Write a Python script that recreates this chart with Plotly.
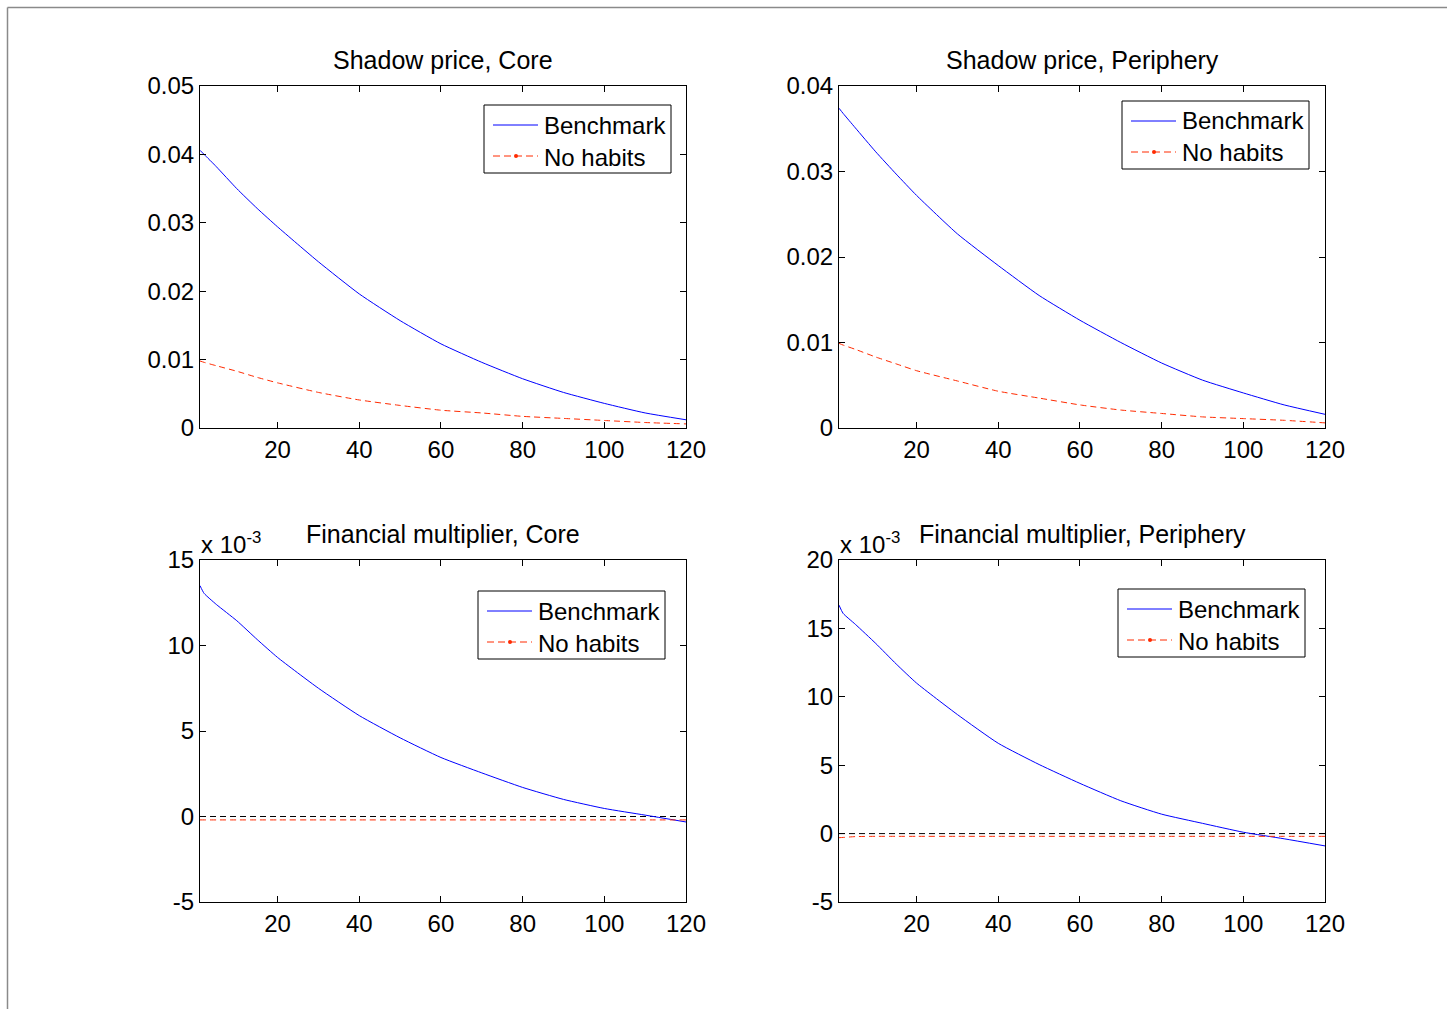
import plotly.graph_objects as go

W, H = 1447, 1009

# Horizon (periods) at which each impulse response is recorded
periods = [1, 2, 5, 10, 15, 20, 30, 40, 50, 60, 70, 80, 90, 100, 110, 120]

# Shadow price, Core
sp_core_bench = [0.0406, 0.0400, 0.0382, 0.0350, 0.0321, 0.0294, 0.0243, 0.0196,
                 0.0157, 0.0123, 0.0096, 0.0072, 0.0052, 0.0036, 0.0022, 0.0012]
sp_core_nohab = [0.0098, 0.0096, 0.0091, 0.0083, 0.0074, 0.0066, 0.0052, 0.0041,
                 0.0033, 0.0026, 0.0022, 0.0017, 0.0014, 0.0011, 0.0008, 0.0006]

# Shadow price, Periphery
sp_peri_bench = [0.0374, 0.0368, 0.0351, 0.0323, 0.0297, 0.0272, 0.0227, 0.0190,
                 0.0155, 0.0126, 0.0100, 0.0076, 0.0056, 0.0041, 0.0027, 0.0016]
sp_peri_nohab = [0.0099, 0.0097, 0.0092, 0.0083, 0.0075, 0.0067, 0.0055, 0.0043,
                 0.0035, 0.0027, 0.0021, 0.0017, 0.0013, 0.0011, 0.0009, 0.0006]

# Financial multiplier, Core
fm_core_bench = [0.0135, 0.01305, 0.0124, 0.01145, 0.01035, 0.0093, 0.0075, 0.0059,
                 0.0046, 0.00345, 0.00255, 0.0017, 0.0010, 0.00047, 0.00008, -0.00032]
fm_core_nohab = [-0.0002, -0.0002, -0.0002, -0.0002, -0.0002, -0.0002, -0.0002, -0.0002,
                 -0.0002, -0.0002, -0.0002, -0.0002, -0.0002, -0.0002, -0.0002, -0.0002]

# Financial multiplier, Periphery
fm_peri_bench = [0.0167, 0.0161, 0.0153, 0.0139, 0.0124, 0.0110, 0.0087, 0.0066,
                 0.00505, 0.00367, 0.0024, 0.00142, 0.00075, 0.0001, -0.00038, -0.0009]
fm_peri_nohab = [-0.0003, -0.00028, -0.00022, -0.0002, -0.0002, -0.0002, -0.0002, -0.0002,
                 -0.0002, -0.0002, -0.0002, -0.0002, -0.0002, -0.0002, -0.0002, -0.0002]

titles = ["Shadow price, Core", "Shadow price, Periphery",
          "Financial multiplier, Core", "Financial multiplier, Periphery"]
x_ticks = [20, 40, 60, 80, 100, 120]
y_ticks_sp_core = [0, 0.01, 0.02, 0.03, 0.04, 0.05]
y_ticks_sp_peri = [0, 0.01, 0.02, 0.03, 0.04]
y_ticks_fm_core = [-0.005, 0, 0.005, 0.010, 0.015]
y_ticks_fm_peri = [-0.005, 0, 0.005, 0.010, 0.015, 0.020]
legend_names = ["Benchmark", "No habits"]

FONT = "Liberation Sans, Arial, Helvetica, sans-serif"
BLUE = "#0000FF"
RED = "#FF2A00"
DASH = "6px,4px"


def px_x(v):
    return v / W


def px_y(v):
    return 1 - v / H


# Axes boxes in pixels: (left, right, top, bottom)
boxes = [(200, 686, 86, 428), (839, 1325, 86, 428),
         (200, 686, 560, 902), (839, 1325, 560, 902)]
# Legend boxes in pixels: (left, top); all share the same size
legend_pos = [(484, 105), (1122, 101), (478, 591), (1118, 589)]
LEG_W, LEG_H = 187, 68

panels = [
    (sp_core_bench, sp_core_nohab, y_ticks_sp_core, None, [0, 0.05]),
    (sp_peri_bench, sp_peri_nohab, y_ticks_sp_peri, None, [0, 0.04]),
    (fm_core_bench, fm_core_nohab, y_ticks_fm_core,
     [f"{round(v * 1000):d}" for v in y_ticks_fm_core], [-0.005, 0.015]),
    (fm_peri_bench, fm_peri_nohab, y_ticks_fm_peri,
     [f"{round(v * 1000):d}" for v in y_ticks_fm_peri], [-0.005, 0.020]),
]

fig = go.Figure()
layout = dict(
    width=W, height=H, autosize=False,
    margin=dict(l=0, r=0, t=0, b=0, pad=0, autoexpand=False),
    paper_bgcolor="white", plot_bgcolor="white",
    font=dict(family=FONT, size=24, color="black"),
    showlegend=False,
)
annotations = []
shapes = []

for i, (bench, nohab, yt, ytext, yr) in enumerate(panels):
    n = "" if i == 0 else str(i + 1)
    xa, ya = "x" + n, "y" + n
    l, r, t, b = boxes[i]

    fig.add_trace(go.Scatter(
        x=periods, y=bench, mode="lines", name=legend_names[0],
        line=dict(color=BLUE, width=1, shape="spline", smoothing=0.5),
        xaxis=xa, yaxis=ya))
    fig.add_trace(go.Scatter(
        x=periods, y=nohab, mode="lines", name=legend_names[1],
        line=dict(color=RED, width=1, dash=DASH, shape="spline", smoothing=0.5),
        xaxis=xa, yaxis=ya))

    axis_common = dict(
        showline=True, linecolor="black", linewidth=1, mirror="ticks",
        ticks="inside", ticklen=6, tickcolor="black", tickwidth=1,
        showgrid=False, zeroline=False, automargin=False,
        tickfont=dict(family=FONT, size=24, color="black"),
    )
    layout["xaxis" + n] = dict(
        axis_common, domain=[px_x(l), px_x(r)], range=[1, 120],
        tickvals=x_ticks, anchor=ya)
    yax = dict(axis_common, domain=[px_y(b), px_y(t)], range=yr,
               tickvals=yt, anchor=xa)
    if ytext:
        yax["ticktext"] = ytext
    layout["yaxis" + n] = yax

    # panel title
    annotations.append(dict(
        text=titles[i], x=px_x((l + r) / 2), y=px_y(t), xref="paper", yref="paper",
        xanchor="center", yanchor="bottom", yshift=10, showarrow=False,
        font=dict(family=FONT, size=25, color="black")))

    if i >= 2:
        # scale factor shown above the y axis
        annotations.append(dict(
            text="x 10<sup>-3</sup>", x=px_x(l - 1), y=px_y(t), xref="paper", yref="paper",
            xanchor="left", yanchor="bottom", yshift=0, showarrow=False,
            font=dict(family=FONT, size=24, color="black")))
        # zero reference line
        shapes.append(dict(
            type="line", xref=xa + " domain", yref=ya, x0=0, x1=1, y0=0, y1=0,
            line=dict(color="black", width=1, dash=DASH), layer="below"))

    # boxed legend
    lx, ly = legend_pos[i]
    shapes.append(dict(type="rect", xref="paper", yref="paper",
                       x0=px_x(lx), x1=px_x(lx + LEG_W), y0=px_y(ly), y1=px_y(ly + LEG_H),
                       fillcolor="white", line=dict(color="black", width=1)))
    rows = [ly + 20, ly + 51]
    styles = [dict(color=BLUE, width=1), dict(color=RED, width=1, dash="7px,4px")]
    for k in range(2):
        shapes.append(dict(type="line", xref="paper", yref="paper",
                           x0=px_x(lx + 9), x1=px_x(lx + 54),
                           y0=px_y(rows[k]), y1=px_y(rows[k]), line=styles[k]))
        annotations.append(dict(
            text=legend_names[k], x=px_x(lx + 58), y=px_y(rows[k] + (1 if k else 0)),
            xref="paper", yref="paper", xanchor="left", yanchor="middle",
            showarrow=False, font=dict(family=FONT, size=24, color="black")))
    shapes.append(dict(type="circle", xref="paper", yref="paper",
                       x0=px_x(lx + 30), x1=px_x(lx + 34),
                       y0=px_y(rows[1] - 2), y1=px_y(rows[1] + 2),
                       fillcolor=RED, line=dict(color=RED, width=0)))

# figure frame
shapes.append(dict(type="line", xref="paper", yref="paper",
                   x0=px_x(7.5), x1=1, y0=px_y(7.5), y1=px_y(7.5),
                   line=dict(color="#8a8a8a", width=1.5)))
shapes.append(dict(type="line", xref="paper", yref="paper",
                   x0=px_x(7.5), x1=px_x(7.5), y0=0, y1=px_y(7.5),
                   line=dict(color="#8a8a8a", width=1.5)))

layout["annotations"] = annotations
layout["shapes"] = shapes
fig.update_layout(**layout)

fig.write_html("out.html")
